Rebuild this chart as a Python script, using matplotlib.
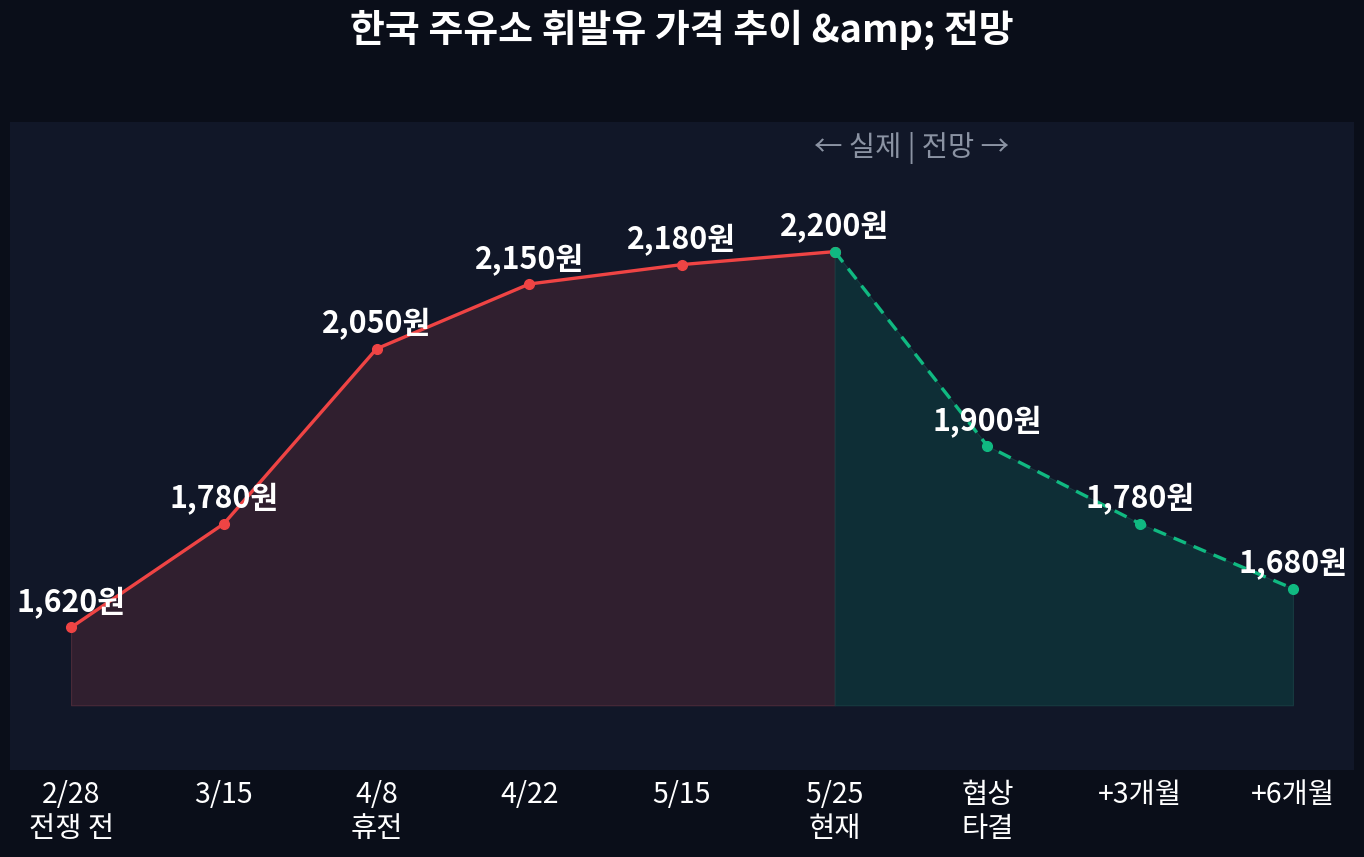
import matplotlib
matplotlib.use("Agg")
import matplotlib.pyplot as plt

plt.rcParams['font.family'] = ['Noto Sans CJK KR', 'DejaVu Sans']

# ---------------- data ----------------
labels = ["2/28\n전쟁 전", "3/15", "4/8\n휴전", "4/22", "5/15", "5/25\n현재",
          "협상\n타결", "+3개월", "+6개월"]
actual_idx = [0, 1, 2, 3, 4, 5]
actual_price = [1620, 1780, 2050, 2150, 2180, 2200]
forecast_idx = [5, 6, 7, 8]
forecast_price = [2200, 1900, 1780, 1680]
base_price = 1500

title = "한국 주유소 휘발유 가격 추이 &amp; 전망"
divider_text = "← 실제 | 전망 →"

# ---------------- style ----------------
fig_bg = "#0a0e19"
panel_bg = "#111728"
red = "#ef4444"
green = "#10b981"

fig = plt.figure(figsize=(13.64, 8.57), dpi=100, facecolor=fig_bg)
ax = fig.add_axes([10 / 1364, 87 / 857, 1344 / 1364, 648 / 857])
ax.set_facecolor(panel_bg)

# filled areas under the lines
ax.fill_between(actual_idx, actual_price, base_price, color="#301f2f",
                edgecolor="#4a2a38", linewidth=0.8, zorder=1)
ax.fill_between(forecast_idx, forecast_price, base_price, color="#0e2e36",
                edgecolor="#173a40", linewidth=0.8, zorder=1)

ax.plot(actual_idx, actual_price, color=red, linewidth=2.4, marker="o",
        markersize=7, zorder=3)
ax.plot(forecast_idx, forecast_price, color=green, linewidth=2.4,
        linestyle=(0, (4, 2.5)), marker="o", markersize=7, zorder=4)

# value labels above each point
all_idx = actual_idx + forecast_idx[1:]
all_price = actual_price + forecast_price[1:]
for i, p in zip(all_idx, all_price):
    ax.annotate(f"{p:,}원", (i, p), xytext=(0, 17.5), textcoords="offset points",
                ha="center", va="center", color="white", fontsize=21.8,
                fontweight="bold", zorder=5)

ax.text(5.5, 2360, divider_text, ha="center", va="center", color="#8b93a3",
        fontsize=20.5)

ax.set_xlim(-0.4, 8.4)
ax.set_ylim(1400, 2400)
ax.set_xticks(range(len(labels)))
ax.set_xticklabels(labels, color="white", fontsize=20.5, linespacing=1.2)
ax.tick_params(axis="x", length=0, pad=7)
ax.set_yticks([])
for s in ax.spines.values():
    s.set_visible(False)

fig.text(0.5, 1 - 30 / 857, title, ha="center", va="center", color="white",
         fontsize=27.3, fontweight="bold")

fig.savefig("out.png", dpi=100, facecolor=fig_bg)
